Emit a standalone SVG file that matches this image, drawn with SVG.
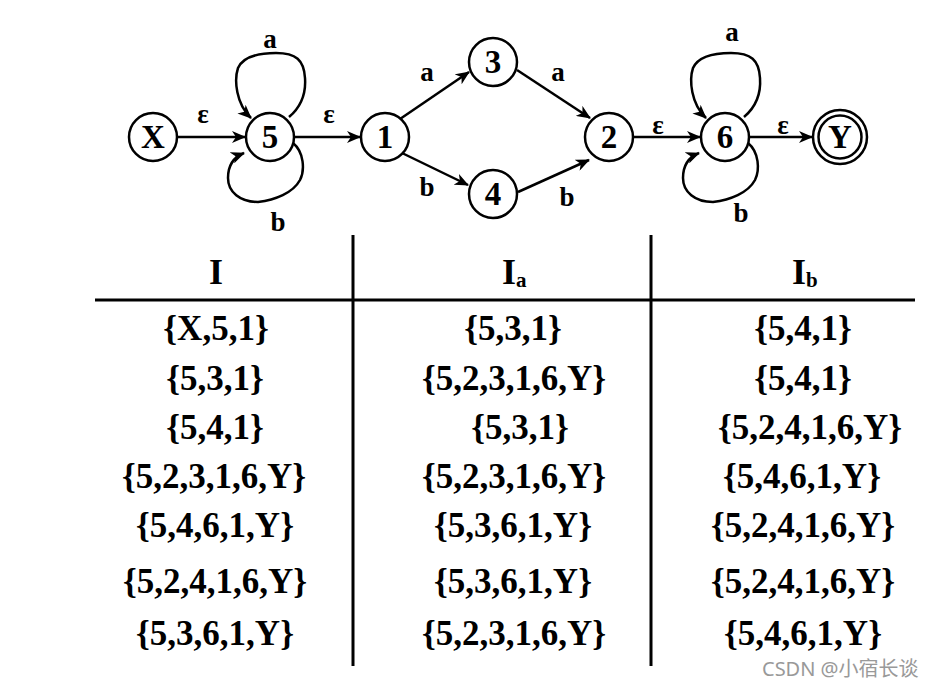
<svg xmlns="http://www.w3.org/2000/svg" width="940" height="688" viewBox="0 0 940 688">
<style>
.n{fill:#fff;stroke:#000;stroke-width:2.5}
.nt{font-family:"Liberation Serif",serif;font-weight:bold;font-size:33px;text-anchor:middle;fill:#000}
.e{fill:none;stroke:#000;stroke-width:2.5}
.lb{font-family:"Liberation Serif",serif;font-weight:bold;font-size:27px;text-anchor:middle;fill:#000}
.tl{stroke:#000;stroke-width:3}
.hd{font-family:"Liberation Serif",serif;font-weight:bold;font-size:36px;text-anchor:middle;fill:#000}
.sb{font-family:"Liberation Serif",serif;font-weight:bold;font-size:21px;fill:#000}
.c{font-family:"Liberation Serif",serif;font-weight:bold;font-size:35px;text-anchor:middle;fill:#000}
.wm{font-family:"Noto Sans","Noto Sans CJK SC",sans-serif;font-size:20px;fill:#999}
</style>
<defs>
<marker id="ar" viewBox="0 0 14 12" refX="13" refY="6" markerWidth="14" markerHeight="12" orient="auto" markerUnits="userSpaceOnUse">
<path d="M0,0 L14,6 L0,12 L4,6 z" fill="#000"/>
</marker>
<g id="loops">
<path class="e" d="M289,117 C302,106 306,92 305,78 C304,60 296,53 276,53 C258,53 243,57 238,68 C234,80 236,104 251,118" marker-end="url(#ar)"/>
<path class="e" d="M293,143 C304,152 305,170 300,180 C293,193 275,200 258,202 C240,202 228,192 228,178 C228,165 234,157 244,153" marker-end="url(#ar)"/>
</g>
</defs>
<g id="connectors">
<line class="e" x1="178" y1="137" x2="245" y2="137" marker-end="url(#ar)"/>
<line class="e" x1="295" y1="137" x2="360" y2="137" marker-end="url(#ar)"/>
<line class="e" x1="400" y1="119" x2="469" y2="72" marker-end="url(#ar)"/>
<line class="e" x1="517" y1="70" x2="590" y2="118" marker-end="url(#ar)"/>
<line class="e" x1="402" y1="153" x2="468" y2="185" marker-end="url(#ar)"/>
<line class="e" x1="518" y1="192" x2="589" y2="160" marker-end="url(#ar)"/>
<line class="e" x1="634" y1="137" x2="700" y2="137" marker-end="url(#ar)"/>
<line class="e" x1="750" y1="137" x2="812" y2="137" marker-end="url(#ar)"/>
<use href="#loops"/>
<use href="#loops" transform="translate(455,0)"/>
<text class="lb" x="203" y="123">ε</text>
<text class="lb" x="329" y="123">ε</text>
<text class="lb" x="658" y="134">ε</text>
<text class="lb" x="783" y="134">ε</text>
<text class="lb" x="270" y="48">a</text>
<text class="lb" x="278" y="231">b</text>
<text class="lb" x="732" y="41">a</text>
<text class="lb" x="741" y="222">b</text>
<text class="lb" x="427" y="81">a</text>
<text class="lb" x="427" y="196">b</text>
<text class="lb" x="558" y="81">a</text>
<text class="lb" x="567" y="206">b</text>
</g>
<g id="node-X"><circle class="n" cx="153" cy="137" r="24"/><text class="nt" x="153" y="148">X</text></g>
<g id="node-5"><circle class="n" cx="270" cy="137" r="24"/><text class="nt" x="270" y="148">5</text></g>
<g id="node-1"><circle class="n" cx="385" cy="137" r="24"/><text class="nt" x="385" y="148">1</text></g>
<g id="node-3"><circle class="n" cx="493" cy="62" r="24"/><text class="nt" x="493" y="73">3</text></g>
<g id="node-4"><circle class="n" cx="493" cy="194" r="24"/><text class="nt" x="493" y="205">4</text></g>
<g id="node-2"><circle class="n" cx="609" cy="137" r="24"/><text class="nt" x="609" y="148">2</text></g>
<g id="node-6"><circle class="n" cx="725" cy="137" r="24"/><text class="nt" x="725" y="148">6</text></g>
<g id="node-Y"><circle class="n" cx="840" cy="137" r="27"/><circle class="n" cx="840" cy="137" r="21.5"/><text class="nt" x="840" y="148">Y</text></g>
<g id="table">
<line class="tl" x1="353" y1="235" x2="353" y2="666"/>
<line class="tl" x1="651" y1="235" x2="651" y2="666"/>
<line class="tl" x1="95" y1="300" x2="915" y2="300"/>
<text class="hd" x="216" y="284">I</text>
<text class="hd" x="509" y="284">I</text><text class="sb" x="516" y="287">a</text>
<text class="hd" x="799" y="284">I</text><text class="sb" x="806" y="287">b</text>
<text class="c" x="216" y="340">{X,5,1}</text>
<text class="c" x="513" y="340">{5,3,1}</text>
<text class="c" x="803" y="340">{5,4,1}</text>
<text class="c" x="215" y="390">{5,3,1}</text>
<text class="c" x="514" y="390">{5,2,3,1,6,Y}</text>
<text class="c" x="803" y="390">{5,4,1}</text>
<text class="c" x="215" y="439">{5,4,1}</text>
<text class="c" x="520" y="439">{5,3,1}</text>
<text class="c" x="810" y="439">{5,2,4,1,6,Y}</text>
<text class="c" x="214" y="488">{5,2,3,1,6,Y}</text>
<text class="c" x="514" y="488">{5,2,3,1,6,Y}</text>
<text class="c" x="802" y="488">{5,4,6,1,Y}</text>
<text class="c" x="215" y="537">{5,4,6,1,Y}</text>
<text class="c" x="513" y="537">{5,3,6,1,Y}</text>
<text class="c" x="803" y="537">{5,2,4,1,6,Y}</text>
<text class="c" x="215" y="593">{5,2,4,1,6,Y}</text>
<text class="c" x="513" y="593">{5,3,6,1,Y}</text>
<text class="c" x="803" y="593">{5,2,4,1,6,Y}</text>
<text class="c" x="215" y="645">{5,3,6,1,Y}</text>
<text class="c" x="514" y="645">{5,2,3,1,6,Y}</text>
<text class="c" x="803" y="645">{5,4,6,1,Y}</text>
</g>
<text class="wm" x="762" y="676">CSDN @小宿长谈</text>
</svg>
